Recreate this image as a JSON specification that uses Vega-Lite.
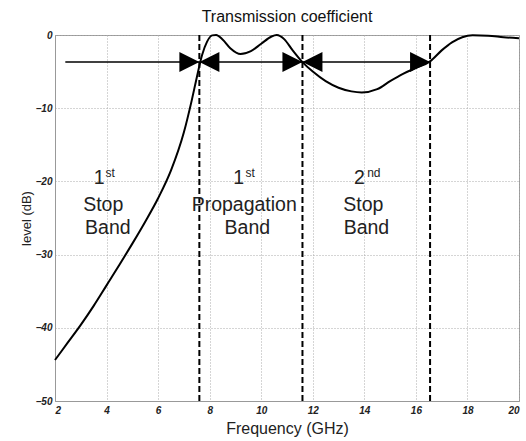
{
  "$schema": "https://vega.github.io/schema/vega-lite/v6.json",
  "width": 464,
  "height": 366,
  "autosize": "none",
  "padding": {"left": 55, "top": 35, "right": 7, "bottom": 40},
  "background": "white",
  "title": {"text": "Transmission coefficient", "fontSize": 16, "fontWeight": "normal", "font": "Liberation Sans", "color": "#111", "offset": 5},
  "config": {
    "view": {"stroke": "#999", "strokeWidth": 1},
    "axis": {
      "labelFont": "Liberation Sans", "labelFontStyle": "italic", "labelFontWeight": "bold", "labelFontSize": 10, "labelColor": "#222",
      "grid": true, "gridDash": [1, 2], "gridColor": "#aaa", "gridOpacity": 1,
      "domainColor": "#999", "ticks": false,
      "titleFont": "Liberation Sans", "titleFontWeight": "normal", "titleColor": "#222"
    }
  },
  "datasets": {
    "curve": [
      {"f": 2.0, "db": -44.4}, {"f": 2.5, "db": -42.0}, {"f": 3.0, "db": -39.6}, {"f": 3.5, "db": -37.0},
      {"f": 4.0, "db": -34.2}, {"f": 4.5, "db": -31.4}, {"f": 5.0, "db": -28.5}, {"f": 5.5, "db": -25.5},
      {"f": 6.0, "db": -22.3}, {"f": 6.5, "db": -18.5}, {"f": 7.0, "db": -13.3}, {"f": 7.3, "db": -9.0},
      {"f": 7.5, "db": -5.8}, {"f": 7.7, "db": -2.8}, {"f": 7.9, "db": -0.9}, {"f": 8.1, "db": -0.05},
      {"f": 8.25, "db": 0}, {"f": 8.5, "db": -0.6}, {"f": 8.8, "db": -1.8}, {"f": 9.2, "db": -2.6},
      {"f": 9.6, "db": -2.2}, {"f": 10.0, "db": -1.2}, {"f": 10.4, "db": -0.2}, {"f": 10.6, "db": 0},
      {"f": 10.9, "db": -0.6}, {"f": 11.2, "db": -2.0}, {"f": 11.6, "db": -3.7}, {"f": 12.0, "db": -5.0},
      {"f": 12.5, "db": -6.3}, {"f": 13.0, "db": -7.2}, {"f": 13.5, "db": -7.7}, {"f": 13.9, "db": -7.85},
      {"f": 14.5, "db": -7.4}, {"f": 15.0, "db": -6.3}, {"f": 15.5, "db": -5.3}, {"f": 16.0, "db": -4.5},
      {"f": 16.55, "db": -3.6}, {"f": 17.0, "db": -2.1}, {"f": 17.4, "db": -1.0}, {"f": 17.8, "db": -0.3},
      {"f": 18.2, "db": -0.05}, {"f": 18.8, "db": -0.1}, {"f": 19.4, "db": -0.3}, {"f": 20.0, "db": -0.45}
    ],
    "arrow": [{"f": 2.4, "db": -3.7}, {"f": 16.55, "db": -3.7}],
    "bounds": [{"f": 7.6}, {"f": 11.6}, {"f": 16.55}],
    "heads": [
      {"f": 7.6, "db": -3.7, "dir": "right"}, {"f": 7.6, "db": -3.7, "dir": "left"},
      {"f": 11.6, "db": -3.7, "dir": "right"}, {"f": 11.6, "db": -3.7, "dir": "left"},
      {"f": 16.55, "db": -3.7, "dir": "right"}
    ],
    "labels": [
      {"f": 3.71, "db": -19.5, "t": "1"}, {"f": 3.87, "db": -23.2, "t": "Stop"}, {"f": 4.05, "db": -26.4, "t": "Band"},
      {"f": 9.13, "db": -19.5, "t": "1"}, {"f": 9.34, "db": -23.2, "t": "Propagation"}, {"f": 9.46, "db": -26.4, "t": "Band"},
      {"f": 13.81, "db": -19.5, "t": "2"}, {"f": 13.96, "db": -23.2, "t": "Stop"}, {"f": 14.08, "db": -26.4, "t": "Band"}
    ],
    "sups": [
      {"f": 4.14, "db": -18.9, "t": "st"}, {"f": 9.57, "db": -18.9, "t": "st"}, {"f": 14.37, "db": -18.9, "t": "nd"}
    ]
  },
  "layer": [
    {
      "data": {"name": "curve"},
      "mark": {"type": "line", "color": "black", "strokeWidth": 2, "interpolate": "monotone"},
      "encoding": {
        "x": {"field": "f", "type": "quantitative", "scale": {"domain": [2, 20], "nice": false},
              "axis": {"values": [2, 4, 6, 8, 10, 12, 14, 16, 18, 20], "title": "Frequency (GHz)", "titleFontSize": 16, "labelPadding": 4, "titlePadding": 5}},
        "y": {"field": "db", "type": "quantitative", "scale": {"domain": [-50, 0], "nice": false},
              "axis": {"values": [-50, -40, -30, -20, -10, 0], "title": "level (dB)", "titleFontSize": 13, "labelPadding": 3, "titlePadding": 2}}
      }
    },
    {
      "data": {"name": "arrow"},
      "mark": {"type": "line", "color": "black", "strokeWidth": 1.5},
      "encoding": {
        "x": {"field": "f", "type": "quantitative"},
        "y": {"field": "db", "type": "quantitative"}
      }
    },
    {
      "data": {"name": "bounds"},
      "mark": {"type": "rule", "color": "black", "strokeWidth": 2, "strokeDash": [6, 3]},
      "encoding": {
        "x": {"field": "f", "type": "quantitative"}
      }
    },
    {
      "data": {"name": "heads"},
      "mark": {"type": "point", "filled": true, "color": "black", "opacity": 1, "size": 400},
      "encoding": {
        "x": {"field": "f", "type": "quantitative"},
        "y": {"field": "db", "type": "quantitative"},
        "shape": {"field": "dir", "type": "nominal", "legend": null,
                  "scale": {"domain": ["right", "left"], "range": ["M-2,-1L0,0L-2,1Z", "M2,-1L0,0L2,1Z"]}}
      }
    },
    {
      "data": {"name": "labels"},
      "mark": {"type": "text", "font": "Liberation Sans", "fontSize": 19.5, "color": "#222", "align": "center", "baseline": "middle"},
      "encoding": {
        "x": {"field": "f", "type": "quantitative"},
        "y": {"field": "db", "type": "quantitative"},
        "text": {"field": "t"}
      }
    },
    {
      "data": {"name": "sups"},
      "mark": {"type": "text", "font": "Liberation Sans", "fontSize": 12, "color": "#222", "align": "center", "baseline": "middle"},
      "encoding": {
        "x": {"field": "f", "type": "quantitative"},
        "y": {"field": "db", "type": "quantitative"},
        "text": {"field": "t"}
      }
    }
  ]
}
